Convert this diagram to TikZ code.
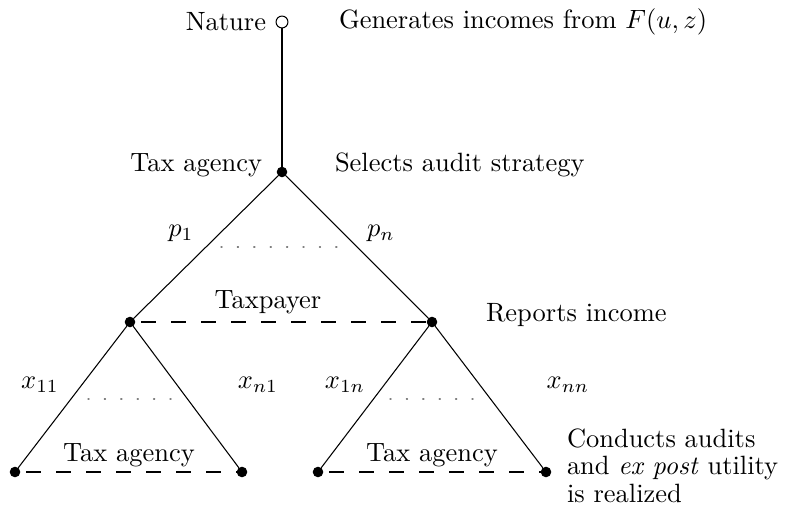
\documentclass[tikz,border=0pt]{standalone}
\begin{document}
\begin{tikzpicture}[x=0.378pt,y=-0.378pt,
  every node/.style={inner sep=0pt,outer sep=0pt},
  opendot/.style={circle,draw,fill=white,minimum size=4.5pt,line width=0.4pt},
  fulldot/.style={circle,fill=black,minimum size=4.0pt},
  branch/.style={line width=0.4pt},
  infoset/.style={line width=0.4pt,dash pattern=on 5.67pt off 5.67pt,dash phase=9.1pt},
  ellip/.style={line width=0.5pt,gray,dash pattern=on 0.4pt off 5.8pt,line cap=round},
  lbl/.style={font=\normalsize}]
\useasboundingbox (0,0) rectangle (786,510);
% nodes
\node[opendot] (nat) at (282,22) {};
\node[fulldot] (ta) at (282,172) {};
\node[fulldot] (L) at (130,322) {};
\node[fulldot] (R) at (432,322) {};
\node[fulldot] (LL) at (15,472) {};
\node[fulldot] (LR) at (242,472) {};
\node[fulldot] (RL) at (318,472) {};
\node[fulldot] (RR) at (546,472) {};
% branches
\draw[branch] (nat) -- (ta);
\draw[branch] (ta) -- (L);
\draw[branch] (ta) -- (R);
\draw[branch] (L) -- (LL);
\draw[branch] (L) -- (LR);
\draw[branch] (R) -- (RL);
\draw[branch] (R) -- (RR);
% information sets
\draw[infoset] (L) -- (R);
\draw[infoset] (LL) -- (LR);
\draw[infoset] (RL) -- (RR);
% ellipses
\coordinate (e1a) at (221,247);
\coordinate (e1b) at (340,247);
\coordinate (e2a) at (88,399);
\coordinate (e2b) at (175,399);
\coordinate (e3a) at (390,399);
\coordinate (e3b) at (477,399);
\draw[ellip] (e1a) -- (e1b);
\draw[ellip] (e2a) -- (e2b);
\draw[ellip] (e3a) -- (e3b);
% labels
\node[lbl,anchor=east] (tnat) at (266,22) {Nature};
\node[lbl,anchor=west] (tgen) at (339,22) {Generates incomes from $F(u,z)$};
\node[lbl,anchor=east] (tta) at (262,165) {Tax agency};
\node[lbl,anchor=west] (tsel) at (335,165) {Selects audit strategy};
\node[lbl] (tp1) at (181,233) {$p_1$};
\node[lbl] (tpn) at (381,233) {$p_n$};
\node[lbl] (ttp) at (268,302) {Taxpayer};
\node[lbl,anchor=west] (trep) at (486,315) {Reports income};
\node[lbl] (tx11) at (40,385) {$x_{11}$};
\node[lbl] (txn1) at (258,385) {$x_{n1}$};
\node[lbl] (tx1n) at (345,385) {$x_{1n}$};
\node[lbl] (txnn) at (568,385) {$x_{nn}$};
\node[lbl] (tta1) at (129,455) {Tax agency};
\node[lbl] (tta2) at (432,455) {Tax agency};
\node[anchor=north west,align=left,font=\fontsize{10}{10.3}\selectfont] (tcon) at (567,429) {Conducts audits\\and \emph{ex post} utility\\is realized};
\end{tikzpicture}
\end{document}
